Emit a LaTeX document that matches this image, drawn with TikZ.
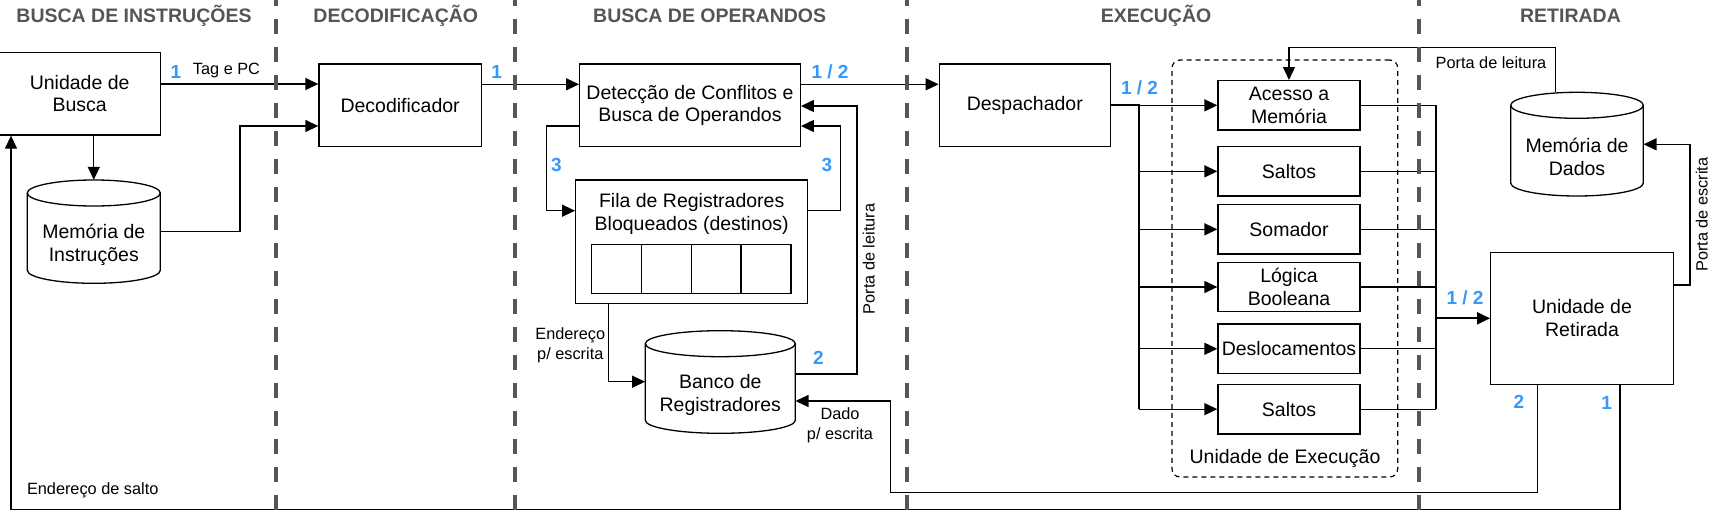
\documentclass[tikz,border=0pt]{standalone}
\usepackage{fontspec}
\setmainfont{Liberation Sans}
\usetikzlibrary{arrows.meta}
\definecolor{lblue}{HTML}{3399FF}
\definecolor{hdr}{HTML}{555555}
\definecolor{sepc}{HTML}{555555}
\newcommand\cylpath[4]{%
 \pgfmathsetmacro\cxm{(#1+#2)/2}%
 \pgfmathsetmacro\crx{(#2-#1)/2}%
 \pgfmathsetmacro\cyt{#3+13}%
 \pgfmathsetmacro\cyb{#4-13}%
 \pgfmathsetmacro\cyc{#4-5.82}%
 \pgfmathsetmacro\cka{\cxm-0.5523*\crx}%
 \pgfmathsetmacro\ckb{\cxm+0.5523*\crx}%
 \fill[white] (#1,\cyt) -- (#1,\cyb) .. controls (#1,\cyc) and (\cka,#4) .. (\cxm,#4) .. controls (\ckb,#4) and (#2,\cyc) .. (#2,\cyb) -- (#2,\cyt) -- cycle;%
 \draw[ln] (#1,\cyt) -- (#1,\cyb) .. controls (#1,\cyc) and (\cka,#4) .. (\cxm,#4) .. controls (\ckb,#4) and (#2,\cyc) .. (#2,\cyb) -- (#2,\cyt);%
 \draw[ln, fill=white] (\cxm,\cyt) ellipse [x radius=\crx, y radius=13];%
}
\begin{document}
\begin{tikzpicture}[x=1pt,y=-1pt,
  ln/.style={line width=1.3pt, line join=miter},
  arr/.style={ln, -{Triangle[length=13pt,width=12pt]}},
  busln/.style={line width=2pt},
  boxst/.style={draw, line width=1.3pt, fill=white, inner sep=0pt, align=center, font=\fontsize{19.5}{22.7}\selectfont},
  txt/.style={inner sep=0pt, align=center, font=\fontsize{19.5}{22.7}\selectfont},
  lbl/.style={inner sep=0pt, align=center, font=\fontsize{16.3}{20}\selectfont},
  num/.style={inner sep=0pt, text=lblue, font=\fontsize{19}{22}\selectfont\bfseries},
  hdrst/.style={inner sep=0pt, text=hdr, font=\fontsize{19.5}{22}\selectfont\bfseries, anchor=base},
  sepline/.style={line width=4pt, draw=sepc, dash pattern=on 15pt off 13pt, dash phase=9pt},
  exbox/.style={boxst, minimum width=142pt, minimum height=49.4pt},
]
\useasboundingbox[fill=white] (0,0) rectangle (1716,525);

% headers
\node[hdrst] (h1) at (134,22) {BUSCA DE INSTRUÇÕES};
\node[hdrst] (h2) at (395.8,22) {DECODIFICAÇÃO};
\node[hdrst] (h3) at (709.7,22) {BUSCA DE OPERANDOS};
\node[hdrst] (h4) at (1156,22) {EXECUÇÃO};
\node[hdrst] (h5) at (1570.5,22) {RETIRADA};

% boxes
\node[boxst, minimum width=161.3pt, minimum height=82.7pt] (busca) at (79.65,93.65) {Unidade de\\Busca};
\node[boxst, minimum width=162.3pt, minimum height=82.7pt] (decod) at (400.15,105.35) {Decodificador};
\node[boxst, minimum width=220.6pt, minimum height=82.7pt] (detec) at (690,105.35) {Detecção de Conflitos e\\Busca de Operandos};
\node[boxst, minimum width=232pt, minimum height=123.3pt] (fila) at (691.7,241.65) {};
\node[txt] (filaT) at (691.7,214) {Fila de Registradores\\Bloqueados (destinos)};
\node[boxst, minimum width=49.83pt, minimum height=49.4pt] (c1) at (616.6,269) {};
\node[boxst, minimum width=49.83pt, minimum height=49.4pt] (c2) at (666.4,269) {};
\node[boxst, minimum width=49.83pt, minimum height=49.4pt] (c3) at (716.2,269) {};
\node[boxst, minimum width=49.83pt, minimum height=49.4pt] (c4) at (766.1,269) {};
\node[boxst, minimum width=171pt, minimum height=82.7pt] (desp) at (1024.8,105.35) {Despachador};

% execution unit group
\node[draw, line width=1.2pt, dash pattern=on 5pt off 4pt, rounded corners=8pt, minimum width=225.7pt, minimum height=417pt, inner sep=0pt] (execu) at (1284.85,268.5) {};
\node[txt] (execT) at (1285,458) {Unidade de Execução};

\node[exbox] (acesso) at (1289,105.35) {Acesso a\\Memória};
\node[exbox] (saltosa) at (1289,171.35) {Saltos};
\node[exbox] (soma) at (1289,229.35) {Somador};
\node[exbox] (logica) at (1289,287) {Lógica\\Booleana};
\node[exbox] (desloc) at (1289,348.8) {Deslocamentos};
\node[exbox] (saltosb) at (1289,409.15) {Saltos};

\node[boxst, minimum width=182.6pt, minimum height=132pt] (retir) at (1582,318.3) {Unidade de\\Retirada};

% cylinders
\cylpath{27.3}{160.3}{180}{283.3}
\node[inner sep=0pt, minimum width=133pt, minimum height=103.3pt] (memi) at (93.8,231.65) {};
\node[txt] (memiT) at (93.8,245) {Memória de\\Instruções};
\cylpath{645.3}{795.3}{330.7}{433.3}
\node[inner sep=0pt, minimum width=150pt, minimum height=102.6pt] (banco) at (720.3,382) {};
\node[txt] (bancoT) at (720.3,395.3) {Banco de\\Registradores};
\cylpath{1510.7}{1643.3}{92.3}{196}
\node[inner sep=0pt, minimum width=132.6pt, minimum height=103.7pt] (memd) at (1577,144.15) {};
\node[txt] (memdT) at (1577,157) {Memória de\\Dados};

% connectors
\draw[arr] (busca.east |- 0,84) -- (decod.west |- 0,84);
\draw[arr] (memi.east |- 0,231.7) -| (240,126) -- (decod.west |- 0,126);
\draw[arr] (memi.north |- busca.south) -- (memi.north);
\draw[arr] (decod.east |- 0,84.3) -- (detec.west |- 0,84.3);
\draw[arr] (detec.west |- 0,126) -| (546.7,210.7) -- (fila.west |- 0,210.7);
\draw[arr] (fila.east |- 0,210.7) -| (840.7,126) -- (detec.east |- 0,126);
\draw[arr] (banco.east |- 0,374) -| (857,106) -- (detec.east |- 0,106);
\draw[arr] (fila.south -| 608.3,0) |- (banco.west |- 0,381.7);
\draw[arr] (detec.east |- 0,84.3) -- (desp.west |- 0,84.3);

\coordinate (bl) at (1138.7,0);
\coordinate (br) at (1436,0);
\draw[busln] (desp.east |- acesso.west) -| (bl |- saltosb.west);
\foreach \b in {acesso,saltosa,soma,logica,desloc,saltosb}{
  \draw[arr] (bl |- \b.west) -- (\b.west);
  \draw[ln] (\b.east) -- (br |- \b.east);
}
\draw[ln] (br |- acesso.east) -- (br |- saltosb.east);
\draw[arr, line width=2pt] (br |- retir.west) -- (retir.west);

\draw[arr] (memd.north -| 1555.7,0) |- (acesso.north |- 0,47.7) -- (acesso.north);
\draw[arr] (retir.east |- 0,285) -| (1690,144.3) -- (memd.east |- 0,144.3);
\draw[arr] (retir.south -| 1537.3,0) |- (890.3,492.7) |- (banco.east |- 0,401);
\draw[arr] (retir.south -| 1620,0) |- (11,509.3) -- (busca.south -| 11,0);

% separators
\draw[sepline] (276.3,0) -- (276.3,512);
\draw[sepline] (515.3,0) -- (515.3,512);
\draw[sepline] (907,0) -- (907,512);
\draw[sepline] (1419.3,0) -- (1419.3,512);

% labels
\node[num] (n1) at (176,71.7) {1};
\node[lbl] (tagpc) at (226.5,70) {Tag e PC};
\node[num] (n2) at (496.7,71.7) {1};
\node[num] (n3) at (556.3,165) {3};
\node[num] (n4) at (827,165) {3};
\node[num] (n5) at (818.3,358.3) {2};
\node[num] (n6) at (830,72) {1 / 2};
\node[num] (n7) at (1139.5,88.3) {1 / 2};
\node[num] (n8) at (1465,297.7) {1 / 2};
\node[num] (n9) at (1519,401.7) {2};
\node[num] (n10) at (1606.7,403) {1};
\node[lbl, rotate=90] (pl1) at (868.7,259) {Porta de leitura};
\node[lbl] (pl2) at (1491,63) {Porta de leitura};
\node[lbl, rotate=90] (pe) at (1701.7,214.5) {Porta de escrita};
\node[lbl] (endesc) at (570.3,345) {Endereço\\p/ escrita};
\node[lbl] (dado) at (840,425) {Dado\\p/ escrita};
\node[lbl] (salto) at (92.7,490) {Endereço de salto};
\end{tikzpicture}
\end{document}
